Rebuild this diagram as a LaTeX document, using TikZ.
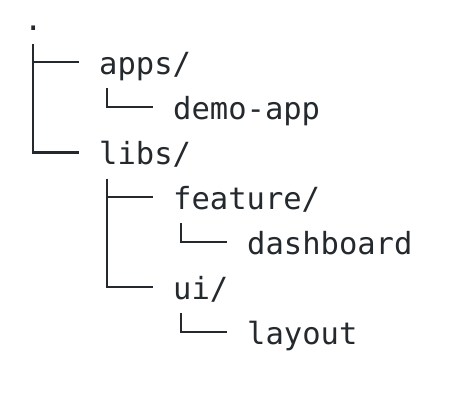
\documentclass[tikz,border=0pt]{standalone}
\usepackage{fontspec}
\setmonofont{DejaVu Sans Mono}
\usepackage{xcolor}
\usetikzlibrary{calc}
\definecolor{treeInk}{HTML}{24292E}
\tikzset{
    entry/.style={anchor=base west, inner sep=0pt, text=treeInk, font=\fontsize{30.5}{36}\selectfont\ttfamily},
    branch/.style={draw=treeInk, line width=2.5pt, line cap=butt}
}
\begin{document}
\begin{tikzpicture}[x=1pt, y=-1pt]
\useasboundingbox[fill=white] (0,0) rectangle (450,402);
% entries
\node[entry] (root) at (23.8,30) {.};
\node[entry] (apps) at (99,74) {apps/};
\node[entry] (demo) at (173,119) {demo-app};
\node[entry] (libs) at (99,164.5) {libs/};
\node[entry] (feature) at (173,209) {feature/};
\node[entry] (dash) at (247,254) {dashboard};
\node[entry] (ui) at (173,299) {ui/};
\node[entry] (layout) at (247,344) {layout};
% branches
\draw[branch] ($(root.base)+(0,14)$) |- ($(apps.base west)+(-20,-12)$);
\draw[branch] ($(root.base)+(0,14)$) |- ($(libs.base west)+(-20,-12)$);
\draw[branch] ($(apps.base west)+(8,14)$) |- ($(demo.base west)+(-20,-12)$);
\draw[branch] ($(libs.base west)+(8,14)$) |- ($(feature.base west)+(-20,-12)$);
\draw[branch] ($(libs.base west)+(8,14)$) |- ($(ui.base west)+(-20,-12)$);
\draw[branch] ($(feature.base west)+(8,14)$) |- ($(dash.base west)+(-20,-12)$);
\draw[branch] ($(ui.base west)+(8,14)$) |- ($(layout.base west)+(-20,-12)$);
\end{tikzpicture}
\end{document}
